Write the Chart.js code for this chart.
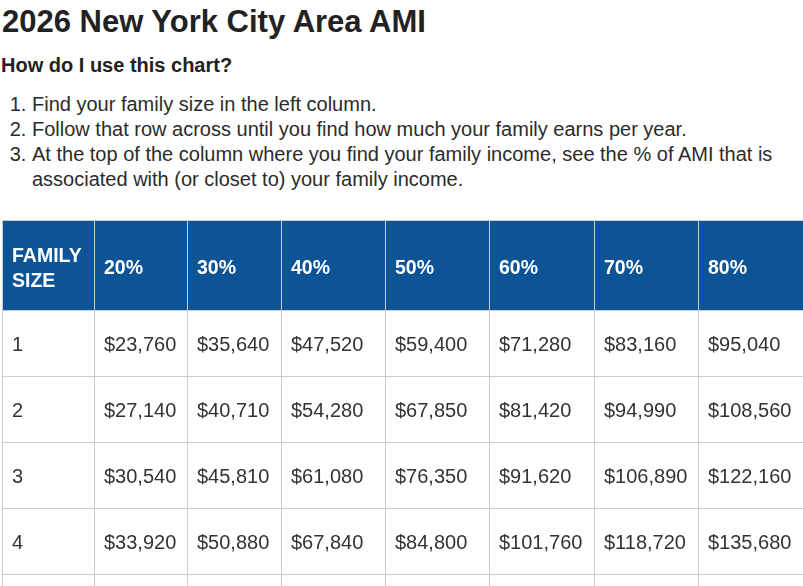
<!DOCTYPE html>
<html>
<head>
<meta charset="utf-8">
<title>2026 New York City Area AMI</title>
<script src="https://cdn.jsdelivr.net/npm/chart.js@4.4.1/dist/chart.umd.min.js"></script>
<style>
  html, body { margin: 0; padding: 0; background: #fff; overflow: hidden; width: 803px; height: 586px; }
  body { position: relative; font-family: "Liberation Sans", Arial, Helvetica, sans-serif; color: #222; }
  h1 { position: absolute; left: 2px; top: 6px; margin: 0; font-size: 31px; line-height: 31px; font-weight: bold; white-space: nowrap; }
  h3 { position: absolute; left: 1px; top: 55px; margin: 0; font-size: 20px; line-height: 20px; font-weight: bold; white-space: nowrap; }
  ol { position: absolute; left: 0; top: 92px; margin: 0; padding: 0 0 0 32px; width: 770px; font-size: 20px; line-height: 25px; color: #2b2b2b; }
  #table-wrap { position: absolute; left: 2px; top: 220px; width: 808px; height: 420px; }
</style>
</head>
<body>
<h1>2026 New York City Area AMI</h1>
<h3>How do I use this chart?</h3>
<ol>
  <li>Find your family size in the left column.</li>
  <li>Follow that row across until you find how much your family earns per year.</li>
  <li>At the top of the column where you find your family income, see the % of AMI that is associated with (or closet to) your family income.</li>
</ol>
<div id="table-wrap"><canvas id="ami"></canvas></div>
<script>
// rows and columns of the table
const familySizes = ['1', '2', '3', '4', '5'];
const amiLevels = ['20%', '30%', '40%', '50%', '60%', '70%', '80%'];

// yearly income per family size, one value per AMI level
const size1 = [23760, 35640, 47520, 59400, 71280, 83160, 95040];
const size2 = [27140, 40710, 54280, 67850, 81420, 94990, 108560];
const size3 = [30540, 45810, 61080, 76350, 91620, 106890, 122160];
const size4 = [33920, 50880, 67840, 84800, 101760, 118720, 135680];
// size 5 row is cut off at the bottom of the page
const incomeRows = [size1, size2, size3, size4];

// table layout (like <col width>), not data
const colWidths = [92, 93, 94, 104, 104, 105, 104, 112];
const headerHeight = 90;
const headerBlue = '#0d5496';
const lineGray = '#cccccc';
const cellPad = 10;

var colStarts = [];
var tableWidth = 0;
for (let i = 0; i < colWidths.length; i++) {
    colStarts.push(tableWidth);
    tableWidth += colWidths[i];
}

var headerLabels = [['FAMILY', 'SIZE']];
for (let i = 0; i < amiLevels.length; i++) {
    headerLabels.push([amiLevels[i]]);
}

function money(v) {
    return '$' + v.toLocaleString('en-US');
}

//one dataset per column, one floating bar per row = the cell
var datasets = [];
for (let c = 0; c < colWidths.length; c++) {
    datasets.push({
        label: c == 0 ? 'FAMILY SIZE' : amiLevels[c - 1],
        data: familySizes.map(() => [colStarts[c], colStarts[c] + colWidths[c]]),
        backgroundColor: '#ffffff',
        borderColor: lineGray,
        borderWidth: { top: 1, left: 1, right: 0, bottom: 0 },
        borderSkipped: false,
        inflateAmount: 0,
        barPercentage: 1,
        categoryPercentage: 1,
        grouped: false
    });
}

const headerPlugin = {
    id: 'amiHeader',
    beforeDatasetsDraw(chart) {
        const ctx = chart.ctx;
        const xs = chart.scales.x;
        const top = chart.chartArea.top;
        ctx.save();
        ctx.fillStyle = headerBlue;
        ctx.fillRect(0, 0, chart.width, top);
        ctx.fillStyle = lineGray;
        ctx.fillRect(0, 0, chart.width, 1);
        for (let c = 0; c < colStarts.length; c++) {
            ctx.fillRect(Math.round(xs.getPixelForValue(colStarts[c])), 0, 1, top);
        }
        //header text
        ctx.fillStyle = '#ffffff';
        ctx.font = 'bold 19.5px "Liberation Sans", Arial, sans-serif';
        ctx.textBaseline = 'alphabetic';
        const mid = top / 2;
        headerLabels.forEach((lines, c) => {
            const px = xs.getPixelForValue(colStarts[c]) + cellPad;
            lines.forEach((t, k) => {
                ctx.fillText(t, px, mid + 9 + (k - (lines.length - 1) / 2) * 25);
            });
        });
        ctx.restore();
    }
};

const cellTextPlugin = {
    id: 'amiCells',
    afterDatasetsDraw(chart) {
        const ctx = chart.ctx;
        ctx.save();
        ctx.fillStyle = '#333333';
        ctx.font = '20px "Liberation Sans", Arial, sans-serif';
        ctx.textBaseline = 'alphabetic';
        chart.data.datasets.forEach((ds, c) => {
            chart.getDatasetMeta(c).data.forEach((bar, r) => {
                let text = null;
                if (c == 0) {
                    text = familySizes[r];
                } else if (incomeRows[r]) {
                    text = money(incomeRows[r][c - 1]);
                }
                if (!text) return;
                ctx.fillText(text, Math.min(bar.x, bar.base) + cellPad, bar.y + 8);
            });
        });
        ctx.restore();
    }
};

var ctx = document.getElementById('ami').getContext('2d');
var amiChart = new Chart(ctx, {
    type: 'bar',
    data: {
        labels: familySizes,
        datasets: datasets
    },
    options: {
        indexAxis: 'y',
        responsive: true,
        maintainAspectRatio: false,
        animation: false,
        events: [],
        layout: { padding: { top: headerHeight, left: 0, right: 0, bottom: 0 } },
        plugins: {
            legend: { display: false },
            tooltip: { enabled: false }
        },
        scales: {
            x: { type: 'linear', min: 0, max: tableWidth, display: false },
            y: { type: 'category', labels: familySizes, display: false, offset: true }
        }
    },
    plugins: [headerPlugin, cellTextPlugin]
});
</script>
</body>
</html>
